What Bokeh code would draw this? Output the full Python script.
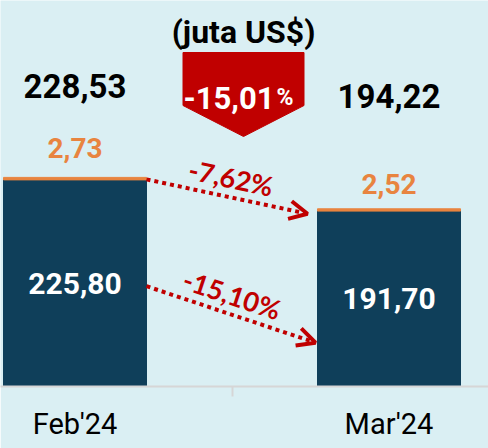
import math
from bokeh.plotting import figure
from bokeh.models import Range1d, FixedTicker, ColumnDataSource, Arrow, OpenHead
from bokeh.core.properties import value
from bokeh.embed import file_html
from bokeh.resources import INLINE

# ---- data ----
categories = ["Feb'24", "Mar'24"]
main_values = [225.80, 191.70]
top_values = [2.73, 2.52]
totals = [228.53, 194.22]
change_total = -15.01
change_top = -7.62
change_main = -15.10
title_text = "(juta US$)"


def fmt(v):
    return f"{v:.2f}".replace(".", ",")


BG = "#DAEFF3"
NAVY = "#0F3F5A"
ORANGE = "#E8843F"
RED = "#C00000"
NARROW = "Roboto"
SANS = "Lato"

W, H = 488, 448
BOTTOM = 62
PX_X = 314.0
PX_Y = 0.915
X0 = -74.5 / PX_X
X1 = X0 + W / PX_X
Y0 = 0.0
Y1 = (H - BOTTOM) / PX_Y
BW = 143 / PX_X


def ydown(px):
    """data y of a point px pixels below the top of the chart"""
    return Y1 - px / PX_Y


p = figure(width=W, height=H, output_backend="svg", toolbar_location=None,
           x_range=Range1d(X0, X1), y_range=Range1d(Y0, Y1),
           min_border=0, min_border_bottom=BOTTOM,
           background_fill_color=BG, border_fill_color=BG, outline_line_color=None)
p.grid.visible = False
p.yaxis.visible = False

xs = list(range(len(categories)))

src = ColumnDataSource(dict(
    x=xs, main=main_values, top=top_values, total=totals,
    half=[m / 2 for m in main_values],
    main_lbl=[fmt(v) for v in main_values],
    top_lbl=[fmt(v) for v in top_values],
    tot_lbl=[fmt(v) for v in totals],
    top_off=[-29, -25],
    tot_off=[-91, -113],
))

p.vbar(x="x", top="main", bottom=0, width=BW, source=src,
       fill_color=NAVY, line_color=NAVY)
p.vbar(x="x", top="total", bottom="main", width=BW, source=src,
       fill_color=ORANGE, line_color=ORANGE, line_width=1)

p.text(x="x", y="half", text="main_lbl", source=src, text_color="white",
       text_font=value(NARROW), text_font_style="bold", text_font_size="30px",
       text_align="center", text_baseline="middle")
p.text(x="x", y="total", text="top_lbl", y_offset="top_off", source=src,
       text_color=ORANGE, text_font=value(NARROW), text_font_style="bold",
       text_font_size="28px", text_align="center", text_baseline="middle")
p.text(x="x", y="total", text="tot_lbl", y_offset="tot_off", source=src,
       text_color="black", text_font=value(NARROW), text_font_style="bold",
       text_font_size="33px", text_align="center", text_baseline="middle")

# ---- x axis ----
ax = p.xaxis[0]
ax.ticker = FixedTicker(ticks=xs, minor_ticks=[0.5])
ax.major_label_overrides = {i: c for i, c in zip(xs, categories)}
ax.axis_line_color = "#D6D6D6"
ax.axis_line_width = 2
ax.major_tick_line_color = None
ax.major_tick_out = 0
ax.major_tick_in = 0
ax.minor_tick_line_color = "#D6D6D6"
ax.minor_tick_line_width = 2
ax.minor_tick_out = 10
ax.minor_tick_in = 0
ax.major_label_standoff = 10
ax.major_label_text_font = NARROW
ax.major_label_text_font_size = "29px"
ax.major_label_text_color = "black"

# ---- change arrows ----
half_bw = BW / 2
arrows = [
    # (x_start, y_start, x_end, y_end, label, label x/y offsets in px)
    (xs[0] + half_bw, totals[0] - 2 / PX_Y, xs[1] - half_bw - 10 / PX_X, totals[1] - 5 / PX_Y,
     fmt(change_top) + "%", 4, -19),
    (xs[0] + half_bw, main_values[0] / 2 - 3 / PX_Y, xs[1] - half_bw - 2 / PX_X, main_values[1] / 4,
     fmt(change_main) + "%", 1, -20),
]
for xa, ya, xb, yb, lbl, ox, oy in arrows:
    p.add_layout(Arrow(x_start=xa, y_start=ya, x_end=xb, y_end=yb,
                       line_color=RED, line_width=4, line_dash="4 4",
                       end=OpenHead(line_color=RED, line_width=4, size=18)))
    ang = math.atan2((yb - ya) * PX_Y, (xb - xa) * PX_X)
    p.text(x=[(xa + xb) / 2], y=[(ya + yb) / 2], text=[lbl], angle=ang,
           x_offset=ox, y_offset=oy, text_color=RED, text_font=value(SANS),
           text_font_style="bold", text_font_size="27px",
           text_align="center", text_baseline="middle")

# ---- badge with total change ----
cx = 0.5 + 11.5 / PX_X
hw = 60.5 / PX_X
p.patch(x=[cx - hw, cx + hw, cx + hw, cx, cx - hw],
        y=[ydown(52), ydown(52), ydown(105), ydown(136), ydown(105)],
        fill_color=RED, line_color=RED)
p.text(x=[cx + 31 / PX_X], y=[ydown(97)], text=[fmt(change_total)],
       text_color="white", text_font=value(NARROW), text_font_style="bold",
       text_font_size="31px", text_align="right", text_baseline="alphabetic")
p.text(x=[cx + 33 / PX_X], y=[ydown(97)], text=["%"],
       text_color="white", text_font=value(NARROW), text_font_style="bold",
       text_font_size="23px", text_align="left", text_baseline="alphabetic")

# ---- title ----
p.text(x=[cx], y=[ydown(31)], text=[title_text], text_color="black",
       text_font=value(NARROW), text_font_style="bold", text_font_size="32px",
       text_align="center", text_baseline="middle")

open("out.html", "w").write(file_html(p, INLINE))
